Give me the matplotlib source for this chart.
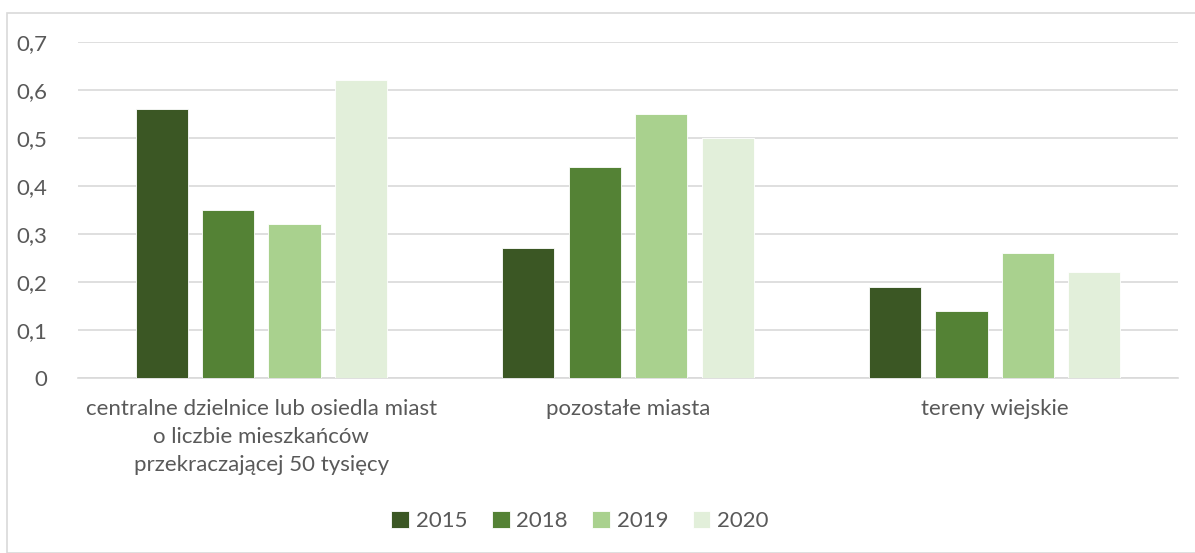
import matplotlib.pyplot as plt
import matplotlib.patches as mpatches
import numpy as np

plt.rcParams['font.family'] = ['Lato', 'DejaVu Sans']

# dane
categories = ['centralne dzielnice lub osiedla miast\no liczbie mieszkańców\nprzekraczającej 50 tysięcy',
              'pozostałe miasta',
              'tereny wiejskie']
years = ['2015', '2018', '2019', '2020']
v2015 = [0.56, 0.27, 0.19]
v2018 = [0.35, 0.44, 0.14]
v2019 = [0.32, 0.55, 0.26]
v2020 = [0.62, 0.50, 0.22]
yticks = [0, 0.1, 0.2, 0.3, 0.4, 0.5, 0.6, 0.7]
ytick_labels = ['0', '0,1', '0,2', '0,3', '0,4', '0,5', '0,6', '0,7']

colors = ['#3B5724', '#548235', '#A9D18E', '#E2EFDA']
text_col = '#595959'
grid_col = '#D9D9D9'

W, H = 1195, 553
fig = plt.figure(figsize=(W / 100, H / 100), dpi=100)

# ramka wykresu
fig.patches.append(mpatches.Rectangle((7 / W, 0), 1.2, (H - 13) / H, transform=fig.transFigure,
                                      fill=False, edgecolor=grid_col, linewidth=1.2))

ax = fig.add_axes([78 / W, 175 / H, 1100 / W, 336 / H])

x = np.arange(len(categories))
width = 0.142
step = 0.181
series = [v2015, v2018, v2019, v2020]
for i, vals in enumerate(series):
    ax.bar(x + (i - 1.5) * step, vals, width, color=colors[i], label=years[i],
           edgecolor='white', linewidth=0.6, zorder=3)

ax.set_xlim(-0.5, 2.5)
ax.set_ylim(0, 0.7)
ax.set_yticks(yticks)
ax.set_yticklabels(ytick_labels)
ax.set_xticks(x)
ax.set_xticklabels(categories, linespacing=1.5)

ax.grid(axis='y', color=grid_col, linewidth=1.2, zorder=0)
for s in ['top', 'right', 'left']:
    ax.spines[s].set_visible(False)
ax.spines['bottom'].set_color(grid_col)
ax.spines['bottom'].set_linewidth(1.2)
ax.tick_params(axis='both', length=0, labelsize=16, colors=text_col)
ax.tick_params(axis='y', pad=22)
ax.tick_params(axis='x', pad=15)

leg = ax.legend(loc='center', bbox_to_anchor=(580 / W, 32 / H), bbox_transform=fig.transFigure,
                ncol=4, frameon=False, fontsize=16, handlelength=0.8, handleheight=0.8,
                handletextpad=0.3, columnspacing=1.1, labelcolor=text_col)

fig.savefig('out.png', dpi=100)
